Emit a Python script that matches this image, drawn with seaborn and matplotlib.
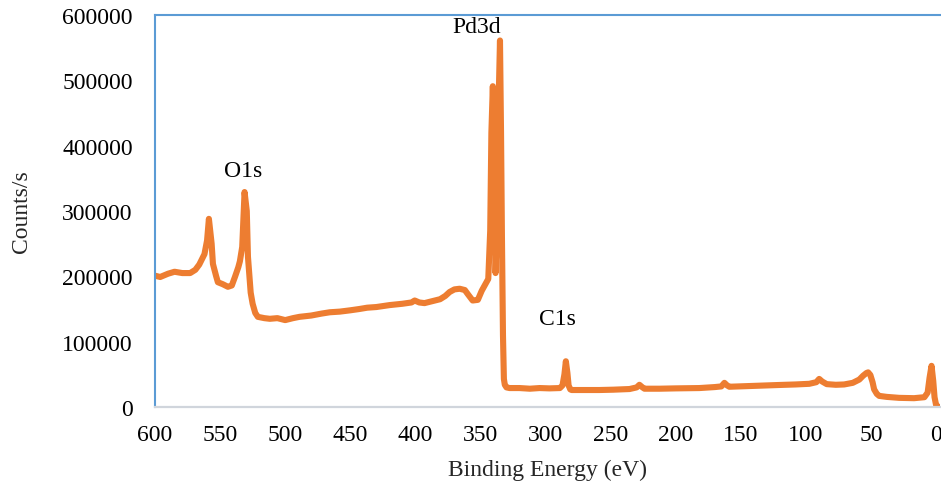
import matplotlib
matplotlib.use("Agg")
import matplotlib.pyplot as plt
import seaborn as sns
import pandas as pd

sns.set_theme(style="white")
plt.rcParams['font.family'] = ['Liberation Serif', 'DejaVu Serif']

# Binding energy (eV) and counts/s (rows of 10)
energy = [
    600, 596, 590, 585, 579, 573, 569, 566, 562, 560,
    558.6, 556.5, 555.5, 553, 551.7, 548, 544, 541, 538.6, 536,
    534.8, 533, 531.2, 529.5, 528.6, 526.5, 525, 523, 521, 516,
    511.8, 506, 500, 494, 489, 480, 472, 465.7, 458, 450,
    443, 437, 430, 419.7, 410, 403, 400.5, 397, 393, 387,
    381, 377, 373.7, 370, 366, 362, 359.8, 356, 352, 349,
    346.5, 344, 342.5, 341.6, 340.5, 339.5, 338.4, 337, 336, 335,
    334.2, 333.5, 332.7, 332, 331.3, 330, 327.6, 320, 312, 304.6,
    297, 289, 287, 285.5, 284.4, 283.2, 282.3, 281, 280, 270,
    258.6, 248, 235.5, 230, 227.9, 225.5, 224, 212.5, 200, 181.8,
    170, 165, 162.6, 160.5, 158.8, 145, 132, 120.5, 108, 97.4,
    92, 89.8, 87.5, 84, 77, 70.6, 64, 59, 56, 53.5,
    52.2, 50.5, 48.8, 47.6, 45.5, 43.7, 38, 28.4, 16.9, 9,
    6.5, 5, 3.5, 2.2, 1.2, 0, -2,
]
counts = [
    201000, 199000, 204000, 207000, 205000, 205000, 210000, 218000, 234000, 255000,
    288000, 250000, 219000, 200000, 191000, 188000, 184000, 186000, 199000, 214000,
    223000, 245000, 329000, 300000, 230000, 175000, 158000, 144000, 138000, 136000,
    135000, 136000, 133000, 136000, 138000, 140000, 143000, 145000, 146000, 148000,
    150000, 152000, 153000, 156000, 158000, 160000, 163000, 160000, 159000, 162000,
    165000, 170000, 176000, 180000, 181000, 179000, 173000, 163000, 164000, 178000,
    187000, 196000, 270000, 420000, 491000, 410000, 205000, 300000, 470000, 561000,
    420000, 260000, 110000, 43000, 34000, 30000, 29000, 29000, 28000, 29000,
    28500, 29000, 33000, 50000, 70000, 52000, 33000, 27000, 26000, 26000,
    26000, 26500, 27500, 30000, 34000, 30000, 28000, 28000, 28500, 29000,
    30500, 31500, 37000, 33000, 31000, 32000, 33000, 33700, 34500, 35500,
    38000, 43000, 39000, 35000, 34000, 34500, 37000, 42000, 48000, 52000,
    53000, 49000, 38000, 27000, 20000, 17000, 15500, 14000, 13500, 15000,
    22000, 45000, 63000, 40000, 15000, 3000, 0,
]

labels = ["O1s", "Pd3d", "C1s"]
label_x = [532, 353, 291]
label_y = [362000, 582000, 135000]

df = pd.DataFrame({"Binding Energy (eV)": energy, "Counts/s": counts})

fig = plt.figure(figsize=(9.41, 4.89), dpi=100)
ax = fig.add_axes([155 / 941, (489 - 408) / 489, 785 / 941, 392 / 489])

sns.lineplot(data=df, x="Binding Energy (eV)", y="Counts/s", ax=ax, sort=False,
             color="#ED7D31", linewidth=4.4, solid_joinstyle="round", solid_capstyle="round")

ax.set_xlim(600, -3)
ax.set_ylim(0, 600000)
ax.set_xticks(range(0, 601, 50))
ax.set_yticks(range(0, 600001, 100000))
ax.tick_params(axis="both", length=0, labelsize=17, colors="black")
ax.tick_params(axis="y", pad=16)
ax.tick_params(axis="x", pad=12)
ax.set_xlabel("Binding Energy (eV)", fontsize=17, labelpad=10)
ax.set_ylabel("Counts/s", fontsize=17, labelpad=22)
ax.grid(False)

for sp in ["left", "top"]:
    ax.spines[sp].set_color("#5B9BD5")
    ax.spines[sp].set_linewidth(1.5)
ax.spines["bottom"].set_color("#D0D5DC")
ax.spines["bottom"].set_linewidth(1.6)
ax.spines["right"].set_visible(False)

for t, xx, yy in zip(labels, label_x, label_y):
    ax.text(xx, yy, t, fontsize=17, ha="center", va="center", color="black")

fig.savefig("out.png", dpi=100)
